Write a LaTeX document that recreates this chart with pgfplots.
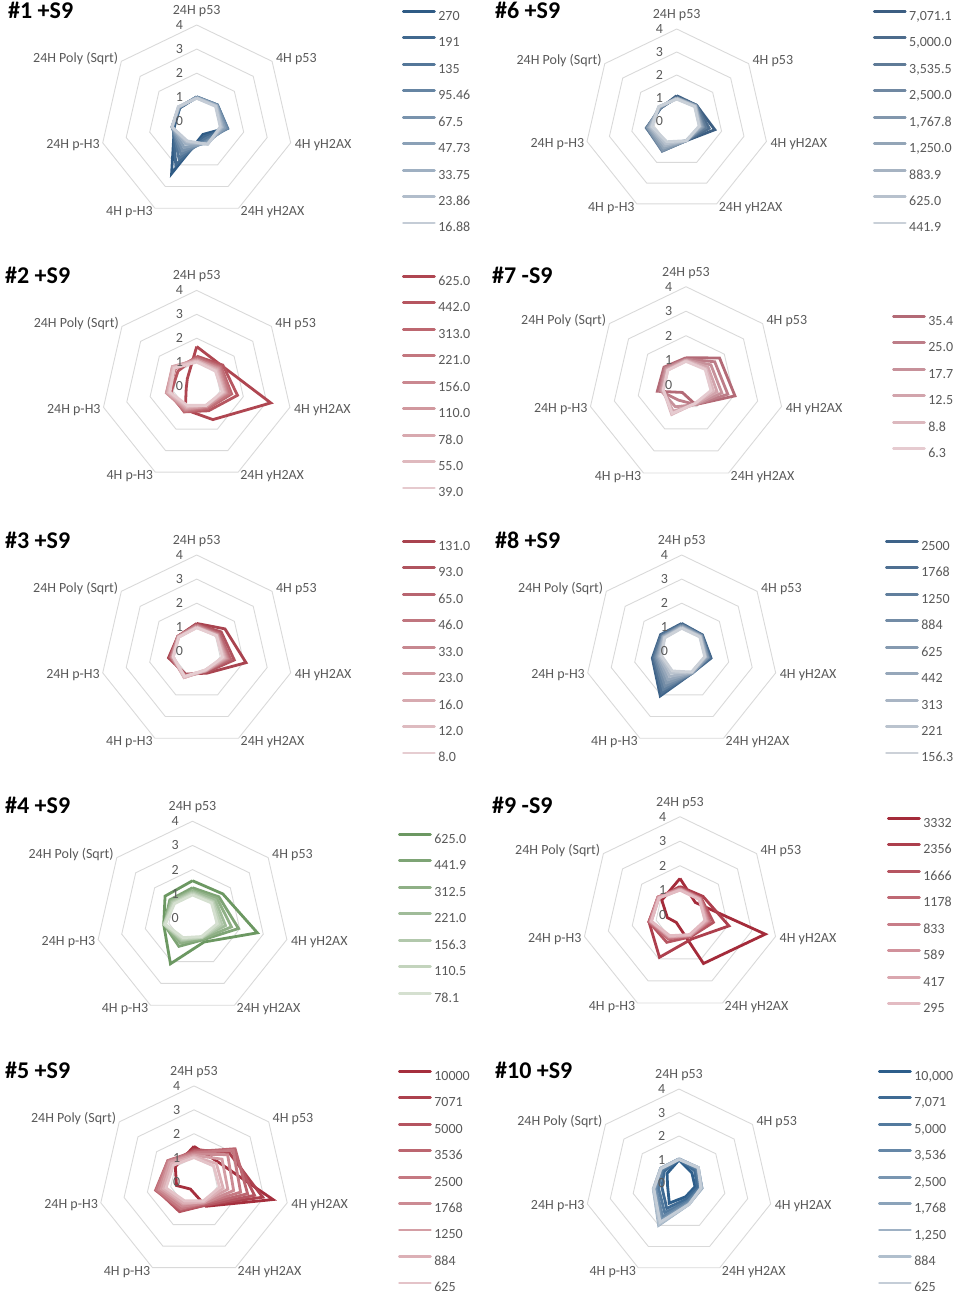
\documentclass[border=0pt]{standalone}
\usepackage{fontspec}
\setmainfont{Carlito}
\usepackage{pgfplots}
\usepackage{pgfplotstable}
\pgfplotsset{compat=1.18}

\definecolor{lab}{HTML}{595959}
\definecolor{ring}{HTML}{D9D9D9}
\definecolor{cAd}{HTML}{2F5B85}\definecolor{cAl}{HTML}{C4CCD6}
\definecolor{cBd}{HTML}{AF4651}\definecolor{cBl}{HTML}{E6CACE}
\definecolor{cCd}{HTML}{A9434F}\definecolor{cCl}{HTML}{E6CDD1}
\definecolor{cDd}{HTML}{6C9862}\definecolor{cDl}{HTML}{D5E0D0}
\definecolor{cEd}{HTML}{A52F3D}\definecolor{cEl}{HTML}{E4C3C8}
\definecolor{cFd}{HTML}{3C5E82}\definecolor{cFl}{HTML}{C9D0D8}
\definecolor{cGd}{HTML}{B36A76}\definecolor{cGl}{HTML}{E6CBD0}
\definecolor{cHd}{HTML}{3E6389}\definecolor{cHl}{HTML}{CCD1D8}
\definecolor{cId}{HTML}{A42B3A}\definecolor{cIl}{HTML}{E3BBC2}
\definecolor{cJd}{HTML}{2D5E8B}\definecolor{cJl}{HTML}{C4CDD7}

\newcommand{\lblfont}{\fontsize{14}{16}\selectfont}

\pgfplotsset{
  radar/.style={hide axis, clip=false, anchor=center,
    xmin=-5, xmax=5, ymin=-5, ymax=5,
    legend cell align=left,
    legend style={draw=none, fill=none, anchor=north west, inner sep=0pt, outer sep=0pt,
      row sep=16.1pt, column sep=2.5pt, font=\lblfont, text=lab,
      nodes={inner sep=0pt, text height=9.5pt, text depth=0pt}},
    legend image code/.code={\draw[##1, line width=2.8pt, line cap=round] (0pt,4.2pt) -- (31pt,4.2pt);},
  },
  rser/.style={data cs=polar, line width=2.8pt, mark=none, line join=miter},
  rring/.style={data cs=polar, draw=ring, line width=0.9pt, mark=none, forget plot},
}
\tikzset{rl/.style={font=\lblfont, text=lab, inner sep=0pt},
  ttl/.style={font=\fontsize{24}{28}\selectfont\bfseries, text=black, inner sep=0pt, anchor=base west}}

\newcommand{\rs}[4]{\addplot[rser, color=#1] table[x=ang,y=#2]{#3}; \addlegendentry{#4}}
\newcommand{\rings}{%
  \addplot[rring] table[x=ang,y=r1]{\tR};
  \addplot[rring] table[x=ang,y=r2]{\tR};
  \addplot[rring] table[x=ang,y=r3]{\tR};
  \addplot[rring] table[x=ang,y=r4]{\tR};}
\newcommand{\radlabels}{%
  \node[rl, anchor=base, yshift=10.5pt] at (axis cs:0,4) {24H p53};
  \node[rl, anchor=base west, xshift=3.8pt, yshift=-1pt] at (axis cs:3.1273,2.4939) {4H p53};
  \node[rl, anchor=base west, xshift=4pt, yshift=-6pt] at (axis cs:3.8997,-0.8901) {4H yH2AX};
  \node[rl, anchor=base west, xshift=2pt, yshift=-7.5pt] at (axis cs:1.7355,-3.6039) {24H yH2AX};
  \node[rl, anchor=base east, xshift=-2pt, yshift=-7.5pt] at (axis cs:-1.7355,-3.6039) {4H p-H3};
  \node[rl, anchor=base east, xshift=-2.7pt, yshift=-6pt] at (axis cs:-3.8997,-0.8901) {24H p-H3};
  \node[rl, anchor=base east, xshift=-3pt, yshift=-1pt] at (axis cs:-3.1273,2.4939) {24H Poly (Sqrt)};
  \node[rl, anchor=east, xshift=-13.5pt] at (axis cs:0,0) {0};
  \node[rl, anchor=east, xshift=-13.5pt] at (axis cs:0,1) {1};
  \node[rl, anchor=east, xshift=-13.5pt] at (axis cs:0,2) {2};
  \node[rl, anchor=east, xshift=-13.5pt] at (axis cs:0,3) {3};
  \node[rl, anchor=east, xshift=-13.5pt] at (axis cs:0,4) {4};}

\pgfplotstableread{
ang r1 r2 r3 r4
90 1 2 3 4
38.5714 1 2 3 4
-12.8571 1 2 3 4
-64.2857 1 2 3 4
-115.7143 1 2 3 4
-167.1429 1 2 3 4
141.4286 1 2 3 4
90 1 2 3 4
}\tR

% #1 +S9
\pgfplotstableread{
ang s1 s2 s3 s4 s5 s6 s7 s8 s9
90 1.0 1.0 1.02 1.02 1.0 1.0 0.98 0.97 0.96
38.5714 1.05 1.08 1.1 1.1 1.08 1.06 1.05 1.03 1.0
-12.8571 1.25 1.3 1.32 1.3 1.25 1.18 1.1 1.05 1.0
-64.2857 0.6 0.7 0.8 0.9 0.95 1.0 1.02 1.05 1.05
-115.7143 2.4 2.0 1.7 1.5 1.35 1.2 1.05 0.95 0.9
-167.1429 0.95 1.0 1.02 1.05 1.05 1.05 1.05 1.05 1.05
141.4286 0.9 0.9 0.92 0.92 0.95 0.95 0.95 0.97 0.98
90 1.0 1.0 1.02 1.02 1.0 1.0 0.98 0.97 0.96
}\tA
% #2 +S9
\pgfplotstableread{
ang s1 s2 s3 s4 s5 s6 s7 s8 s9
90 1.65 1.25 1.2 1.15 1.1 1.1 1.05 1.05 1.0
38.5714 1.35 1.4 1.3 1.25 1.2 1.15 1.1 1.05 1.0
-12.8571 3.18 1.75 1.5 1.4 1.3 1.25 1.2 1.15 1.1
-64.2857 1.56 1.15 1.05 1.0 0.95 0.95 0.9 0.9 0.9
-115.7143 1.1 1.2 1.2 1.15 1.1 1.05 1.0 0.95 0.9
-167.1429 0.45 1.1 1.2 1.25 1.3 1.3 1.25 1.2 1.15
141.4286 0.5 1.0 1.15 1.2 1.25 1.3 1.3 1.25 1.2
90 1.65 1.25 1.2 1.15 1.1 1.1 1.05 1.05 1.0
}\tB
% #3 +S9
\pgfplotstableread{
ang s1 s2 s3 s4 s5 s6 s7 s8 s9
90 1.16 1.12 1.1 1.08 1.05 1.03 1.0 1.0 0.98
38.5714 1.5 1.3 1.2 1.15 1.12 1.1 1.08 1.05 1.05
-12.8571 2.1 1.6 1.45 1.35 1.3 1.25 1.2 1.15 1.1
-64.2857 1.0 0.95 0.9 0.9 0.9 0.88 0.88 0.85 0.85
-115.7143 1.05 1.1 1.1 1.15 1.15 1.2 1.2 1.2 1.15
-167.1429 1.2 1.15 1.1 1.1 1.05 1.05 1.0 1.0 1.0
141.4286 1.0 1.0 1.0 1.0 1.0 0.98 0.97 0.95 0.95
90 1.16 1.12 1.1 1.08 1.05 1.03 1.0 1.0 0.98
}\tC
% #4 +S9
\pgfplotstableread{
ang s1 s2 s3 s4 s5 s6 s7
90 1.54 1.25 1.15 1.1 1.05 1.0 0.95
38.5714 1.6 1.4 1.3 1.2 1.1 1.05 1.0
-12.8571 2.75 1.95 1.65 1.4 1.25 1.15 1.05
-64.2857 1.1 1.0 0.95 0.9 0.9 0.88 0.85
-115.7143 2.1 1.3 1.15 1.05 1.0 0.95 0.9
-167.1429 1.22 1.2 1.2 1.2 1.2 1.2 1.15
141.4286 1.45 1.2 1.15 1.1 1.05 1.0 0.95
90 1.54 1.25 1.15 1.1 1.05 1.0 0.95
}\tD
% #5 +S9
\pgfplotstableread{
ang s1 s2 s3 s4 s5 s6 s7 s8 s9
90 1.47 1.35 1.3 1.25 1.2 1.15 1.1 1.05 1.0
38.5714 1.3 1.9 2.05 2.2 2.1 1.8 1.5 1.2 1.05
-12.8571 3.39 2.95 2.6 2.3 2.0 1.7 1.45 1.25 1.1
-64.2857 1.15 1.1 1.1 1.05 1.0 1.0 0.95 0.95 0.9
-115.7143 0.35 1.35 1.4 1.3 1.25 1.15 1.05 1.0 0.9
-167.1429 0.75 1.5 1.6 1.65 1.6 1.5 1.4 1.3 1.2
141.4286 1.0 1.2 1.3 1.4 1.4 1.35 1.3 1.2 1.1
90 1.47 1.35 1.3 1.25 1.2 1.15 1.1 1.05 1.0
}\tE
% #6 +S9
\pgfplotstableread{
ang s1 s2 s3 s4 s5 s6 s7 s8 s9
90 1.1 1.05 1.02 1.0 1.0 1.0 0.98 0.97 0.95
38.5714 1.1 1.1 1.1 1.08 1.05 1.05 1.05 1.02 1.0
-12.8571 1.7 1.45 1.3 1.2 1.15 1.1 1.05 1.02 1.0
-64.2857 0.95 0.95 0.95 0.95 0.95 0.95 0.95 0.95 0.95
-115.7143 1.2 1.35 1.45 1.45 1.4 1.3 1.2 1.1 1.0
-167.1429 1.3 1.35 1.35 1.3 1.3 1.25 1.2 1.15 1.1
141.4286 0.9 0.9 0.9 0.92 0.95 0.95 0.98 1.0 1.0
90 1.1 1.05 1.02 1.0 1.0 1.0 0.98 0.97 0.95
}\tF
% #7 -S9
\pgfplotstableread{
ang s1 s2 s3 s4 s5 s6
90 1.1 1.05 1.02 1.0 0.98 0.95
38.5714 1.75 1.5 1.3 1.15 1.05 1.0
-12.8571 2.05 1.75 1.5 1.3 1.15 1.05
-64.2857 0.9 0.9 0.9 0.88 0.85 0.85
-115.7143 0.35 0.7 1.0 1.2 1.35 1.3
-167.1429 1.2 1.1 1.05 1.0 0.95 0.95
141.4286 1.15 1.1 1.05 1.0 0.95 0.95
90 1.1 1.05 1.02 1.0 0.98 0.95
}\tG
% #8 +S9
\pgfplotstableread{
ang s1 s2 s3 s4 s5 s6 s7 s8 s9
90 1.16 1.12 1.1 1.08 1.05 1.02 1.0 0.98 0.96
38.5714 1.1 1.08 1.06 1.05 1.03 1.02 1.0 0.98 0.96
-12.8571 1.25 1.2 1.15 1.12 1.1 1.05 1.02 1.0 0.98
-64.2857 1.0 1.0 1.0 1.0 1.0 0.98 0.97 0.95 0.95
-115.7143 2.05 1.9 1.75 1.6 1.45 1.3 1.15 1.0 0.9
-167.1429 1.25 1.2 1.15 1.1 1.05 1.0 0.95 0.9 0.85
141.4286 1.12 1.1 1.05 1.0 1.0 0.98 0.95 0.92 0.9
90 1.16 1.12 1.1 1.08 1.05 1.02 1.0 0.98 0.96
}\tH
% #9 -S9
\pgfplotstableread{
ang s1 s2 s3 s4 s5 s6 s7 s8
90 1.48 1.15 1.1 1.08 1.05 1.05 1.02 1.0
38.5714 0.8 1.2 1.1 1.08 1.05 1.05 1.02 1.0
-12.8571 3.57 2.05 1.4 1.25 1.2 1.15 1.1 1.05
-64.2857 2.21 1.1 1.0 0.95 0.95 0.95 0.92 0.9
-115.7143 0.35 1.93 1.25 1.1 1.05 1.0 1.0 0.95
-167.1429 0.53 1.3 1.3 1.3 1.25 1.25 1.2 1.2
141.4286 0.95 1.1 1.15 1.15 1.15 1.15 1.1 1.1
90 1.48 1.15 1.1 1.08 1.05 1.05 1.02 1.0
}\tI
% #10 +S9
\pgfplotstableread{
ang s1 s2 s3 s4 s5 s6 s7 s8 s9
90 0.98 1.0 1.0 1.02 1.02 1.03 1.03 1.02 1.0
38.5714 0.7 0.85 0.95 1.0 1.02 1.05 1.05 1.05 1.05
-12.8571 0.7 0.8 0.9 0.95 1.0 1.0 1.0 0.98 0.95
-64.2857 0.65 0.75 0.85 0.9 0.95 0.98 1.0 1.0 1.0
-115.7143 0.95 1.2 1.4 1.6 1.75 1.9 2.0 1.95 1.85
-167.1429 0.5 0.75 0.9 1.0 1.05 1.1 1.12 1.12 1.1
141.4286 0.65 0.8 0.9 0.95 1.0 1.0 1.0 1.0 0.98
90 0.98 1.0 1.0 1.02 1.02 1.03 1.03 1.02 1.0
}\tJ

\begin{document}
\begin{tikzpicture}
\path[use as bounding box] (0pt,0pt) rectangle (955pt,-1293pt);

% ---------- #1
\node[ttl] at (8pt,-18.3pt) {\#1 +S9};
\begin{axis}[radar, at={(196.7pt,-121.4pt)}, x=24.1pt, y=24.1pt,
  legend style={at={(axis cs:8.519,4.622)}}]
\rings
\rs{cAd!100!cAl}{s1}{\tA}{270}
\rs{cAd!88!cAl}{s2}{\tA}{191}
\rs{cAd!75!cAl}{s3}{\tA}{135}
\rs{cAd!63!cAl}{s4}{\tA}{95.46}
\rs{cAd!50!cAl}{s5}{\tA}{67.5}
\rs{cAd!38!cAl}{s6}{\tA}{47.73}
\rs{cAd!25!cAl}{s7}{\tA}{33.75}
\rs{cAd!13!cAl}{s8}{\tA}{23.86}
\rs{cAd!0!cAl}{s9}{\tA}{16.88}
\radlabels
\end{axis}

% ---------- #2
\node[ttl] at (5pt,-283pt) {\#2 +S9};
\begin{axis}[radar, at={(196.7pt,-386pt)}, x=23.9pt, y=23.9pt,
  legend style={at={(axis cs:8.59,4.644)}}]
\rings
\rs{cBd!100!cBl}{s1}{\tB}{625.0}
\rs{cBd!88!cBl}{s2}{\tB}{442.0}
\rs{cBd!75!cBl}{s3}{\tB}{313.0}
\rs{cBd!63!cBl}{s4}{\tB}{221.0}
\rs{cBd!50!cBl}{s5}{\tB}{156.0}
\rs{cBd!38!cBl}{s6}{\tB}{110.0}
\rs{cBd!25!cBl}{s7}{\tB}{78.0}
\rs{cBd!13!cBl}{s8}{\tB}{55.0}
\rs{cBd!0!cBl}{s9}{\tB}{39.0}
\radlabels
\end{axis}

% ---------- #3
\node[ttl] at (5pt,-548.5pt) {\#3 +S9};
\begin{axis}[radar, at={(196.7pt,-651.4pt)}, x=24.1pt, y=24.1pt,
  legend style={at={(axis cs:8.519,4.622)}}]
\rings
\rs{cCd!100!cCl}{s1}{\tC}{131.0}
\rs{cCd!88!cCl}{s2}{\tC}{93.0}
\rs{cCd!75!cCl}{s3}{\tC}{65.0}
\rs{cCd!63!cCl}{s4}{\tC}{46.0}
\rs{cCd!50!cCl}{s5}{\tC}{33.0}
\rs{cCd!38!cCl}{s6}{\tC}{23.0}
\rs{cCd!25!cCl}{s7}{\tC}{16.0}
\rs{cCd!13!cCl}{s8}{\tC}{12.0}
\rs{cCd!0!cCl}{s9}{\tC}{8.0}
\radlabels
\end{axis}

% ---------- #4
\node[ttl] at (5pt,-813pt) {\#4 +S9};
\begin{axis}[radar, at={(192.5pt,-918pt)}, x=24.2pt, y=24.2pt,
  legend style={at={(axis cs:8.492,3.512)}}]
\rings
\rs{cDd!100!cDl}{s1}{\tD}{625.0}
\rs{cDd!83!cDl}{s2}{\tD}{441.9}
\rs{cDd!67!cDl}{s3}{\tD}{312.5}
\rs{cDd!50!cDl}{s4}{\tD}{221.0}
\rs{cDd!33!cDl}{s5}{\tD}{156.3}
\rs{cDd!17!cDl}{s6}{\tD}{110.5}
\rs{cDd!0!cDl}{s7}{\tD}{78.1}
\radlabels
\end{axis}

% ---------- #5
\node[ttl] at (5pt,-1078.5pt) {\#5 +S9};
\begin{axis}[radar, at={(194pt,-1181.5pt)}, x=23.9pt, y=23.9pt,
  legend style={at={(axis cs:8.536,4.67)}}]
\rings
\rs{cEd!100!cEl}{s1}{\tE}{10000}
\rs{cEd!88!cEl}{s2}{\tE}{7071}
\rs{cEd!75!cEl}{s3}{\tE}{5000}
\rs{cEd!63!cEl}{s4}{\tE}{3536}
\rs{cEd!50!cEl}{s5}{\tE}{2500}
\rs{cEd!38!cEl}{s6}{\tE}{1768}
\rs{cEd!25!cEl}{s7}{\tE}{1250}
\rs{cEd!13!cEl}{s8}{\tE}{884}
\rs{cEd!0!cEl}{s9}{\tE}{625}
\radlabels
\end{axis}

% ---------- #6
\node[ttl] at (495pt,-18.3pt) {\#6 +S9};
\begin{axis}[radar, at={(676.7pt,-121pt)}, x=23pt, y=23pt,
  legend style={at={(axis cs:8.53,4.826)}}]
\rings
\rs{cFd!100!cFl}{s1}{\tF}{7,071.1}
\rs{cFd!88!cFl}{s2}{\tF}{5,000.0}
\rs{cFd!75!cFl}{s3}{\tF}{3,535.5}
\rs{cFd!63!cFl}{s4}{\tF}{2,500.0}
\rs{cFd!50!cFl}{s5}{\tF}{1,767.8}
\rs{cFd!38!cFl}{s6}{\tF}{1,250.0}
\rs{cFd!25!cFl}{s7}{\tF}{883.9}
\rs{cFd!13!cFl}{s8}{\tF}{625.0}
\rs{cFd!0!cFl}{s9}{\tF}{441.9}
\radlabels
\end{axis}

% ---------- #7
\node[ttl] at (492pt,-283pt) {\#7 -S9};
\begin{axis}[radar, at={(686pt,-384.7pt)}, x=24.5pt, y=24.5pt,
  legend style={at={(axis cs:8.41,2.845)}}]
\rings
\rs{cGd!100!cGl}{s1}{\tG}{35.4}
\rs{cGd!80!cGl}{s2}{\tG}{25.0}
\rs{cGd!60!cGl}{s3}{\tG}{17.7}
\rs{cGd!40!cGl}{s4}{\tG}{12.5}
\rs{cGd!20!cGl}{s5}{\tG}{8.8}
\rs{cGd!0!cGl}{s6}{\tG}{6.3}
\radlabels
\end{axis}

% ---------- #8
\node[ttl] at (495pt,-548.5pt) {\#8 +S9};
\begin{axis}[radar, at={(681.7pt,-651.4pt)}, x=24.1pt, y=24.1pt,
  legend style={at={(axis cs:8.436,4.622)}}]
\rings
\rs{cHd!100!cHl}{s1}{\tH}{2500}
\rs{cHd!88!cHl}{s2}{\tH}{1768}
\rs{cHd!75!cHl}{s3}{\tH}{1250}
\rs{cHd!63!cHl}{s4}{\tH}{884}
\rs{cHd!50!cHl}{s5}{\tH}{625}
\rs{cHd!38!cHl}{s6}{\tH}{442}
\rs{cHd!25!cHl}{s7}{\tH}{313}
\rs{cHd!13!cHl}{s8}{\tH}{221}
\rs{cHd!0!cHl}{s9}{\tH}{156.3}
\radlabels
\end{axis}

% ---------- #9
\node[ttl] at (492pt,-813pt) {\#9 -S9};
\begin{axis}[radar, at={(680pt,-914.7pt)}, x=24.5pt, y=24.5pt,
  legend style={at={(axis cs:8.449,3.988)}}]
\rings
\rs{cId!100!cIl}{s1}{\tI}{3332}
\rs{cId!86!cIl}{s2}{\tI}{2356}
\rs{cId!71!cIl}{s3}{\tI}{1666}
\rs{cId!57!cIl}{s4}{\tI}{1178}
\rs{cId!43!cIl}{s5}{\tI}{833}
\rs{cId!29!cIl}{s6}{\tI}{589}
\rs{cId!14!cIl}{s7}{\tI}{417}
\rs{cId!0!cIl}{s8}{\tI}{295}
\radlabels
\end{axis}

% ---------- #10
\node[ttl] at (495pt,-1078.5pt) {\#10 +S9};
\begin{axis}[radar, at={(679pt,-1183pt)}, x=23.5pt, y=23.5pt,
  legend style={at={(axis cs:8.468,4.81)}}]
\rings
\rs{cJd!100!cJl}{s1}{\tJ}{10,000}
\rs{cJd!88!cJl}{s2}{\tJ}{7,071}
\rs{cJd!75!cJl}{s3}{\tJ}{5,000}
\rs{cJd!63!cJl}{s4}{\tJ}{3,536}
\rs{cJd!50!cJl}{s5}{\tJ}{2,500}
\rs{cJd!38!cJl}{s6}{\tJ}{1,768}
\rs{cJd!25!cJl}{s7}{\tJ}{1,250}
\rs{cJd!13!cJl}{s8}{\tJ}{884}
\rs{cJd!0!cJl}{s9}{\tJ}{625}
\radlabels
\end{axis}
\end{tikzpicture}
\end{document}
